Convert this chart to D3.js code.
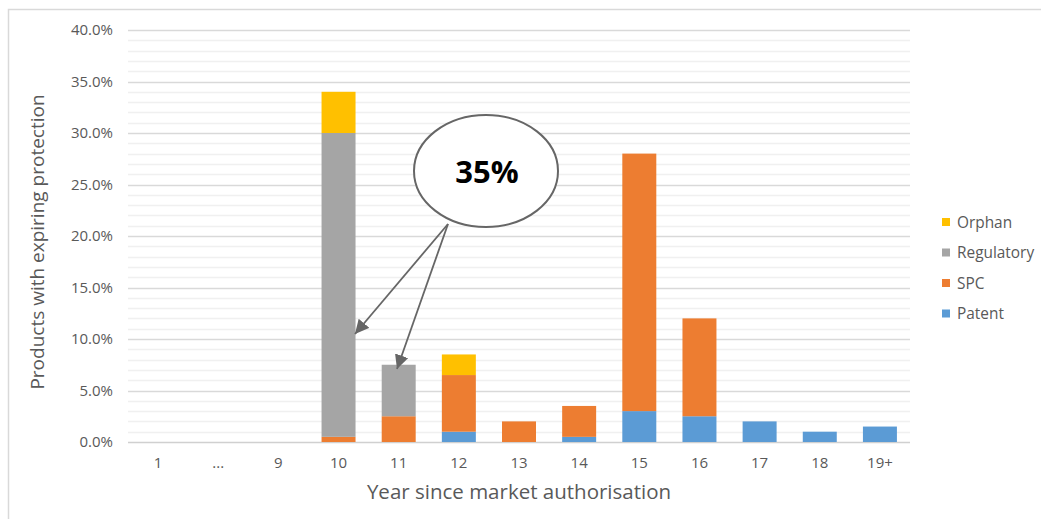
<!DOCTYPE html>
<html><head><meta charset="utf-8">
<script src="https://cdn.jsdelivr.net/npm/d3@7"></script>
<style>body{margin:0;background:#fff;} svg{display:block;font-family:"Open Sans",sans-serif;}</style>
</head><body><svg id="c" width="1041" height="519"></svg>
<script>
const categories = ["1","...","9","10","11","12","13","14","15","16","17","18","19+"];
const patent     = [0,0,0,0,0,1,0,0.5,3,2.5,2,1,1.5];
const spc        = [0,0,0,0.5,2.5,5.5,2,3,25,9.5,0,0,0];
const regulatory = [0,0,0,29.5,5,0,0,0,0,0,0,0,0];
const orphan     = [0,0,0,4,0,2,0,0,0,0,0,0,0];
const seriesNames = ["Patent","SPC","Regulatory","Orphan"];
const colors = ["#5b9bd5","#ed7d31","#a5a5a5","#ffc000"];
const yTicks = [0,5,10,15,20,25,30,35,40];

const svg = d3.select("#c");
const L=128,R=910,T=30,B=442;
const x = d3.scaleBand().domain(categories).range([L,R]).paddingInner(0.435).paddingOuter(0.2175);
const y = d3.scaleLinear().domain([0,40]).range([B,T]);

// chart border
svg.append("rect").attr("x",8.5).attr("y",9.5).attr("width",1100).attr("height",600)
  .attr("fill","none").attr("stroke","#d9d9d9").attr("stroke-width",1.5);

// minor grid
svg.append("g").selectAll("line").data(d3.range(0,41,1).filter(v=>v%5!==0)).join("line")
  .attr("x1",L).attr("x2",R).attr("y1",d=>Math.round(y(d))+0.5).attr("y2",d=>Math.round(y(d))+0.5)
  .attr("stroke","#f0f0f0").attr("stroke-width",1.5);
// major grid
svg.append("g").selectAll("line").data(yTicks).join("line")
  .attr("x1",L).attr("x2",R).attr("y1",d=>Math.round(y(d))+0.5).attr("y2",d=>Math.round(y(d))+0.5)
  .attr("stroke",d=>d===0?"#d0d0d0":"#d9d9d9").attr("stroke-width",1.5);

// y axis labels
const yAxis = d3.axisLeft(y).tickValues(yTicks).tickFormat(d=>d.toFixed(1)+"%").tickSize(0).tickPadding(15);
const ga = svg.append("g").attr("transform",`translate(${L},0)`).call(yAxis);
ga.select(".domain").remove();
ga.selectAll("text").attr("font-size",15).attr("fill","#595959").attr("font-family","Open Sans");

// x axis labels
const xAxis = d3.axisBottom(x).tickSize(0).tickPadding(15);
const gx = svg.append("g").attr("transform",`translate(0,${B})`).call(xAxis);
gx.select(".domain").remove();
gx.selectAll("text").attr("font-size",15).attr("fill","#595959").attr("font-family","Open Sans");

// stacked bars
const rows = categories.map((c,i)=>({cat:c,Patent:patent[i],SPC:spc[i],Regulatory:regulatory[i],Orphan:orphan[i]}));
const stack = d3.stack().keys(seriesNames)(rows);
svg.append("g").selectAll("g").data(stack).join("g").attr("fill",(d,i)=>colors[i])
  .selectAll("rect").data(d=>d.filter(p=>p[1]-p[0]>0)).join("rect")
  .attr("x",d=>x(d.data.cat)).attr("width",x.bandwidth())
  .attr("y",d=>y(d[1])).attr("height",d=>y(d[0])-y(d[1]));

// axis titles
svg.append("text").attr("transform","translate(44,242) rotate(-90)").attr("text-anchor","middle")
  .attr("font-size",19).attr("fill","#595959").text("Products with expiring protection");
svg.append("text").attr("x",519).attr("y",499).attr("text-anchor","middle")
  .attr("font-size",20.5).attr("fill","#595959").text("Year since market authorisation");

// legend
const lg = svg.append("g");
const legendOrder = [3,2,1,0];
legendOrder.forEach((si,k)=>{
  const yy = 222 + k*30.5;
  lg.append("rect").attr("x",942).attr("y",yy-4).attr("width",8).attr("height",8).attr("fill",colors[si]);
  lg.append("text").attr("x",957).attr("y",yy+5.5).attr("font-size",15.4).attr("fill","#595959").text(seriesNames[si]);
});

// annotation
const defs = svg.append("defs");
defs.append("marker").attr("id","ah").attr("viewBox","0 0 10 10").attr("refX",10).attr("refY",5)
  .attr("markerWidth",14).attr("markerHeight",14).attr("markerUnits","userSpaceOnUse").attr("orient","auto")
  .append("path").attr("d","M0,0L10,5L0,10Z").attr("fill","#666");
svg.append("ellipse").attr("cx",486).attr("cy",171).attr("rx",72).attr("ry",56)
  .attr("fill","#fff").attr("stroke","#666").attr("stroke-width",2);
svg.append("text").attr("x",487).attr("y",183).attr("text-anchor","middle").attr("font-size",31)
  .attr("font-weight","bold").attr("fill","#000").text("35%");
[[355,334],[397,369]].forEach(p=>{
  svg.append("line").attr("x1",448).attr("y1",224).attr("x2",p[0]).attr("y2",p[1])
    .attr("stroke","#666").attr("stroke-width",1.8).attr("marker-end","url(#ah)");
});
</script></body></html>
